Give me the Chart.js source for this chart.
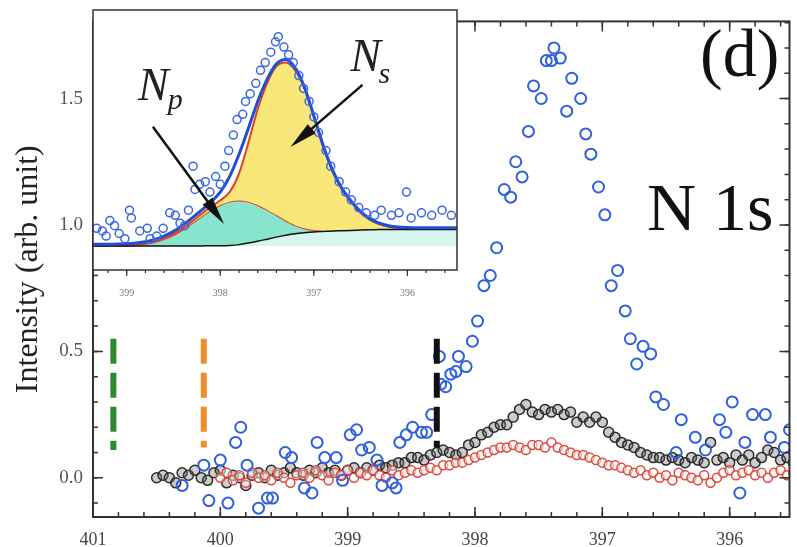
<!DOCTYPE html>
<html>
<head>
<meta charset="utf-8">
<script src="https://cdn.jsdelivr.net/npm/chart.js@4.4.1/dist/chart.umd.min.js"></script>
<style>
  body { margin: 0; background: #fff; }
  #wrap { position: relative; width: 797px; height: 547px; }
  #wrap canvas { position: absolute; left: 0; top: 0; }
</style>
</head>
<body>
<div id="wrap">
  <canvas id="mainChart" width="797" height="547"></canvas>
  <canvas id="insetChart" width="797" height="547"></canvas>
</div>
<script>
// main panel
const xTicks = [401, 400, 399, 398, 397, 396];
const yTicks = [0.0, 0.5, 1.0, 1.5];

const blueE = [400.30, 400.13, 400.09, 400.00, 399.94, 399.88, 399.84, 399.79, 399.70, 399.63,
  399.59, 399.49, 399.44, 399.34, 399.28, 399.24, 399.18, 399.09, 399.04, 398.98,
  398.93, 398.89, 398.83, 398.77, 398.73, 398.65, 398.62, 398.59, 398.54, 398.49,
  398.42, 398.38, 398.34, 398.28, 398.27, 398.23, 398.19, 398.15, 398.13, 398.07,
  398.02, 397.98, 397.93, 397.88, 397.83, 397.77, 397.72, 397.68, 397.63, 397.58,
  397.54, 397.48, 397.44, 397.40, 397.38, 397.33, 397.28, 397.24, 397.17, 397.13,
  397.09, 397.03, 396.98, 396.93, 396.88, 396.82, 396.78, 396.73, 396.68, 396.62,
  396.58, 396.52, 396.42, 396.38, 396.27, 396.19, 396.08, 396.03, 395.98, 395.92,
  395.88, 395.82, 395.72, 395.68, 395.57, 395.53];
const blueI = [-0.03, 0.05, -0.09, 0.07, -0.10, 0.14, 0.20, 0.05, -0.12, -0.08,
  -0.08, 0.10, 0.08, -0.04, -0.06, 0.14, 0.08, 0.08, -0.01, 0.17,
  0.19, 0.11, 0.12, 0.07, -0.03, -0.02, -0.04, 0.14, 0.17, 0.20,
  0.18, 0.18, 0.25, 0.48, 0.37, 0.36, 0.41, 0.42, 0.48, 0.44,
  0.54, 0.62, 0.76, 0.80, 0.91, 1.14, 1.11, 1.25, 1.19, 1.37,
  1.55, 1.50, 1.65, 1.65, 1.70, 1.66, 1.45, 1.58, 1.50, 1.36,
  1.28, 1.15, 1.04, 0.76, 0.82, 0.66, 0.55, 0.45, 0.52, 0.49,
  0.32, 0.29, 0.10, 0.23, 0.16, 0.11, 0.23, 0.18, 0.30, -0.06,
  0.14, 0.25, 0.25, 0.16, 0.12, 0.19];

// black scan covers all of scanE, red scan starts at 400.00 (index 10)
const scanE = [400.50, 400.45, 400.40, 400.35, 400.30, 400.25, 400.20, 400.15, 400.10, 400.05,
  400.00, 399.95, 399.90, 399.85, 399.80, 399.75, 399.70, 399.65, 399.60, 399.55,
  399.50, 399.45, 399.40, 399.35, 399.30, 399.25, 399.20, 399.15, 399.10, 399.05,
  399.00, 398.95, 398.90, 398.85, 398.80, 398.75, 398.70, 398.65, 398.60, 398.55,
  398.50, 398.45, 398.40, 398.35, 398.30, 398.25, 398.20, 398.15, 398.10, 398.05,
  398.00, 397.95, 397.90, 397.85, 397.80, 397.75, 397.70, 397.65, 397.60, 397.55,
  397.50, 397.45, 397.40, 397.35, 397.30, 397.25, 397.20, 397.15, 397.10, 397.05,
  397.00, 396.95, 396.90, 396.85, 396.80, 396.75, 396.70, 396.65, 396.60, 396.55,
  396.50, 396.45, 396.40, 396.35, 396.30, 396.25, 396.20, 396.15, 396.10, 396.05,
  396.00, 395.95, 395.90, 395.85, 395.80, 395.75, 395.70, 395.65, 395.60, 395.55,
  395.50];
const blackI = [0.00, 0.01, 0.00, -0.02, 0.02, 0.01, 0.03, 0.00, -0.01, 0.02,
  0.03, -0.02, 0.01, 0.00, -0.03, 0.01, 0.02, 0.00, 0.03, 0.01,
  0.02, 0.04, 0.02, 0.01, 0.03, 0.02, 0.04, 0.02, 0.03, 0.01,
  0.03, 0.04, 0.02, 0.04, 0.03, 0.05, 0.04, 0.05, 0.06, 0.06,
  0.08, 0.08, 0.07, 0.09, 0.10, 0.11, 0.10, 0.09, 0.10, 0.13,
  0.14, 0.17, 0.18, 0.20, 0.21, 0.21, 0.24, 0.27, 0.29, 0.26,
  0.25, 0.27, 0.26, 0.27, 0.25, 0.26, 0.22, 0.24, 0.22, 0.24,
  0.22, 0.18, 0.16, 0.14, 0.13, 0.12, 0.10, 0.09, 0.08, 0.08,
  0.07, 0.08, 0.07, 0.06, 0.08, 0.07, 0.06, 0.14, 0.07, 0.08,
  0.06, 0.09, 0.07, 0.09, 0.06, 0.08, 0.11, 0.10, 0.07, 0.08,
  0.06];
const redI = [0.00, 0.02, -0.01, 0.01, -0.02, 0.02, 0.00, 0.01, -0.01, 0.02,
  0.00, -0.02, 0.01, 0.02, 0.00, 0.03, 0.01, -0.01, 0.02, 0.01,
  0.03, 0.00, 0.02, 0.01, 0.03, 0.01, 0.00, 0.03, 0.01, 0.02,
  0.03, 0.02, 0.03, 0.04, 0.03, 0.05, 0.05, 0.06, 0.06, 0.07,
  0.08, 0.09, 0.10, 0.11, 0.12, 0.12, 0.13, 0.12, 0.11, 0.13,
  0.13, 0.12, 0.14, 0.12, 0.11, 0.10, 0.09, 0.09, 0.08, 0.07,
  0.06, 0.05, 0.05, 0.04, 0.03, 0.02, 0.03, 0.01, 0.02, 0.00,
  0.01, -0.01, 0.02, 0.01, 0.00, -0.01, 0.01, -0.02, 0.00, 0.02,
  0.03, 0.01, 0.02, 0.03, 0.01, 0.02, 0.00, 0.02, 0.03, 0.01,
  0.02];

// dashed guide lines (green, orange, black)
const markerE = [400.84, 400.13, 398.30];
const markerTop = [0.55, 0.55, 0.55];
const markerBottom = [0.11, 0.12, 0.12];

// inset: fit components
const insetTicks = [399, 398, 397, 396];
const insetE = [399.4, 399.3, 399.2, 399.1, 399.0, 398.9, 398.8, 398.7, 398.6, 398.5,
  398.4, 398.3, 398.2, 398.1, 398.0, 397.9, 397.8, 397.7, 397.6, 397.5,
  397.4, 397.3, 397.2, 397.1, 397.0, 396.9, 396.8, 396.7, 396.6, 396.5,
  396.4, 396.3, 396.2, 396.1, 396.0, 395.9, 395.8, 395.7, 395.6, 395.5,
  395.4];
const bgCurve = [0.892, 0.892, 0.892, 0.892, 0.892, 0.892, 0.892, 0.892, 0.892, 0.892,
  0.892, 0.892, 0.892, 0.893, 0.893, 0.894, 0.897, 0.903, 0.910, 0.918,
  0.926, 0.933, 0.939, 0.943, 0.946, 0.948, 0.950, 0.951, 0.952, 0.953,
  0.954, 0.955, 0.955, 0.955, 0.955, 0.955, 0.955, 0.955, 0.955, 0.955,
  0.955];
const npCurve = [0.892, 0.892, 0.892, 0.893, 0.894, 0.896, 0.900, 0.907, 0.918, 0.934,
  0.955, 0.980, 1.006, 1.030, 1.050, 1.063, 1.067, 1.063, 1.050, 1.032,
  1.011, 0.990, 0.972, 0.960, 0.953, 0.950, 0.951, 0.951, 0.952, 0.953,
  0.954, 0.955, 0.955, 0.955, 0.955, 0.955, 0.955, 0.955, 0.955, 0.955,
  0.955];
const totalCurve = [0.892, 0.892, 0.892, 0.893, 0.894, 0.896, 0.901, 0.909, 0.921, 0.938,
  0.960, 0.987, 1.016, 1.043, 1.068, 1.100, 1.170, 1.290, 1.420, 1.520,
  1.585, 1.600, 1.570, 1.500, 1.390, 1.275, 1.180, 1.110, 1.060, 1.020,
  0.992, 0.975, 0.966, 0.961, 0.958, 0.957, 0.956, 0.956, 0.956, 0.956,
  0.956];
const envCurve = [0.898, 0.898, 0.898, 0.899, 0.900, 0.903, 0.908, 0.917, 0.930, 0.948,
  0.972, 1.000, 1.030, 1.062, 1.100, 1.160, 1.245, 1.345, 1.450, 1.535,
  1.595, 1.612, 1.580, 1.505, 1.395, 1.280, 1.185, 1.115, 1.065, 1.025,
  0.997, 0.980, 0.970, 0.965, 0.963, 0.962, 0.962, 0.962, 0.962, 0.962,
  0.962];
const insetPtE = [399.32, 399.26, 399.22, 399.18, 399.13, 399.08, 399.02, 398.97, 398.95, 398.86,
  398.78, 398.75, 398.68, 398.61, 398.54, 398.48, 398.43, 398.38, 398.34, 398.29,
  398.27, 398.22, 398.16, 398.11, 398.05, 398.00, 397.95, 397.91, 397.86, 397.82,
  397.76, 397.73, 397.68, 397.62, 397.57, 397.52, 397.46, 397.41, 397.38, 397.32,
  397.27, 397.22, 397.16, 397.11, 397.05, 397.00, 396.95, 396.87, 396.82, 396.73,
  396.66, 396.60, 396.52, 396.44, 396.35, 396.28, 396.17, 396.09, 396.01, 395.96,
  395.85, 395.74, 395.63, 395.53];
const insetPtI = [0.96, 0.95, 0.93, 0.99, 0.97, 0.94, 0.92, 1.03, 1.00, 0.95,
  0.96, 0.92, 0.93, 0.96, 1.02, 1.01, 0.98, 0.97, 1.03, 1.20,
  1.11, 1.13, 1.14, 1.10, 1.16, 1.13, 1.20, 1.26, 1.32, 1.38,
  1.40, 1.45, 1.48, 1.52, 1.57, 1.60, 1.64, 1.68, 1.70, 1.66,
  1.63, 1.60, 1.55, 1.50, 1.45, 1.39, 1.33, 1.26, 1.20, 1.14,
  1.10, 1.07, 1.04, 1.02, 1.01, 1.03, 1.01, 1.02, 1.10, 1.00,
  1.02, 1.01, 1.03, 1.01];

// arrows and labels of the inset, in data units
const arrows = [
  { from: [398.72, 1.352], to: [397.96, 0.977] },
  { from: [396.48, 1.514], to: [397.25, 1.274] }
];
const compLabels = [
  { main: 'N', sub: 'p', at: [398.88, 1.457], subAt: [398.56, 1.419] },
  { main: 'N', sub: 's', at: [396.61, 1.566], subAt: [396.31, 1.523] }
];

Chart.defaults.font.family = "'Liberation Serif', 'Times New Roman', serif";

const pts = (xs, ys) => ys.map((y, i) => ({ x: xs[i], y: y }));

function tickMarks(ctx, scale, step, len, side, a) {
  const lo = Math.min(scale.min, scale.max), hi = Math.max(scale.min, scale.max);
  const n0 = Math.ceil(lo / step - 1e-6), n1 = Math.floor(hi / step + 1e-6);
  ctx.beginPath();
  for (let n = n0; n <= n1; n++) {
    const p = scale.getPixelForValue(n * step);
    if (side === 'bottom') { ctx.moveTo(p, a.bottom); ctx.lineTo(p, a.bottom - len); }
    if (side === 'top') { ctx.moveTo(p, a.top); ctx.lineTo(p, a.top + len); }
    if (side === 'left') { ctx.moveTo(a.left, p); ctx.lineTo(a.left + len, p); }
    if (side === 'right') { ctx.moveTo(a.right, p); ctx.lineTo(a.right - len, p); }
  }
  ctx.stroke();
}

const mainFrame = {
  id: 'mainFrame',
  afterDatasetsDraw(chart) {
    const { ctx, chartArea: a, scales: { x, y } } = chart;
    ctx.save();
    ctx.strokeStyle = '#333';
    ctx.lineWidth = 2;
    ctx.strokeRect(a.left, a.top, a.right - a.left, a.bottom - a.top);
    ctx.lineWidth = 1.5;
    tickMarks(ctx, x, 1, 10, 'bottom', a);
    tickMarks(ctx, x, 0.2, 5, 'bottom', a);
    tickMarks(ctx, x, 1, 10, 'top', a);
    tickMarks(ctx, x, 0.2, 5, 'top', a);
    tickMarks(ctx, y, 0.5, 10, 'left', a);
    tickMarks(ctx, y, 0.1, 5, 'left', a);
    tickMarks(ctx, y, 0.5, 10, 'right', a);
    tickMarks(ctx, y, 0.1, 5, 'right', a);
    ctx.fillStyle = '#111';
    ctx.font = "68px 'Liberation Serif'";
    ctx.textBaseline = 'alphabetic';
    ctx.fillText('(d)', 700, 76);
    ctx.fillText('N 1s', 647, 230);
    ctx.restore();
  }
};

const markerColors = ['#2f8a2f', '#f28c28', '#111111'];
const mainDatasets = [
  { data: pts(scanE, blackI), showLine: false, pointRadius: 5, pointBorderWidth: 1.5,
    pointBorderColor: '#2b2b2b', pointBackgroundColor: 'rgba(110,110,110,0.35)', order: 4 },
  { data: pts(scanE.slice(10), redI), showLine: false, pointRadius: 4.5, pointBorderWidth: 1.5,
    pointBorderColor: '#e2473c', pointBackgroundColor: 'rgba(255,255,255,0.5)', order: 3 },
  { data: pts(blueE, blueI), showLine: false, pointRadius: 5.5, pointBorderWidth: 2,
    pointBorderColor: '#3060e0', pointBackgroundColor: 'rgba(255,255,255,0)', order: 2 }
];
markerE.forEach((e, i) => {
  mainDatasets.push({
    data: [{ x: e, y: markerTop[i] }, { x: e, y: markerBottom[i] }],
    showLine: true, borderColor: markerColors[i], borderWidth: 6, borderDash: [25, 9],
    borderCapStyle: 'butt', pointRadius: 0, fill: false, order: 1
  });
});

new Chart(document.getElementById('mainChart'), {
  type: 'line',
  data: { datasets: mainDatasets },
  options: {
    responsive: false,
    animation: false,
    events: [],
    layout: { padding: { left: 0, top: 10, right: 4, bottom: 0 } },
    plugins: { legend: { display: false }, tooltip: { enabled: false } },
    scales: {
      x: {
        type: 'linear', reverse: true, min: 395.53, max: 401.0,
        grid: { display: false, drawTicks: false }, border: { display: false },
        afterBuildTicks: s => { s.ticks = xTicks.map(v => ({ value: v })); },
        afterFit: s => { s.height = 30; },
        ticks: { color: '#444', font: { size: 18 }, padding: 12, maxRotation: 0, autoSkip: false }
      },
      y: {
        type: 'linear', min: -0.155, max: 1.805,
        grid: { display: false, drawTicks: false }, border: { display: false },
        afterBuildTicks: s => { s.ticks = yTicks.map(v => ({ value: v })); },
        afterFit: s => { s.width = 93; },
        ticks: { color: '#555', font: { size: 19 }, padding: 10, callback: v => v.toFixed(1) },
        title: { display: true, text: 'Intensity (arb. unit)', color: '#222',
          font: { size: 32 }, padding: { top: 9, bottom: 0 } }
      }
    }
  },
  plugins: [mainFrame]
});

const insetFrame = {
  id: 'insetFrame',
  beforeDraw(chart) {
    const { ctx, chartArea: a } = chart;
    ctx.save();
    ctx.fillStyle = '#fff';
    ctx.fillRect(a.left, a.top, a.right - a.left, a.bottom - a.top);
    ctx.restore();
  },
  afterDraw(chart) {
    const { ctx, chartArea: a, scales: { x, y } } = chart;
    ctx.save();
    ctx.strokeStyle = '#333';
    ctx.lineWidth = 1.5;
    ctx.strokeRect(a.left, a.top, a.right - a.left, a.bottom - a.top);
    ctx.lineWidth = 1.2;
    tickMarks(ctx, x, 1, -6, 'bottom', a);
    tickMarks(ctx, x, 0.2, -3, 'bottom', a);

    ctx.strokeStyle = '#111';
    ctx.fillStyle = '#111';
    ctx.lineWidth = 2.5;
    arrows.forEach(ar => {
      const x0 = x.getPixelForValue(ar.from[0]), y0 = y.getPixelForValue(ar.from[1]);
      const x1 = x.getPixelForValue(ar.to[0]), y1 = y.getPixelForValue(ar.to[1]);
      const ang = Math.atan2(y1 - y0, x1 - x0);
      const hl = 28, hw = 6;
      ctx.beginPath();
      ctx.moveTo(x0, y0);
      ctx.lineTo(x1 - Math.cos(ang) * hl * 0.5, y1 - Math.sin(ang) * hl * 0.5);
      ctx.stroke();
      ctx.beginPath();
      ctx.moveTo(x1, y1);
      ctx.lineTo(x1 - Math.cos(ang) * hl - Math.sin(ang) * hw, y1 - Math.sin(ang) * hl + Math.cos(ang) * hw);
      ctx.lineTo(x1 - Math.cos(ang) * hl + Math.sin(ang) * hw, y1 - Math.sin(ang) * hl - Math.cos(ang) * hw);
      ctx.closePath();
      ctx.fill();
    });

    ctx.fillStyle = '#222';
    ctx.textBaseline = 'alphabetic';
    compLabels.forEach(lb => {
      ctx.font = "italic 46px 'Liberation Serif'";
      ctx.fillText(lb.main, x.getPixelForValue(lb.at[0]), y.getPixelForValue(lb.at[1]));
      ctx.font = "italic 30px 'Liberation Serif'";
      ctx.fillText(lb.sub, x.getPixelForValue(lb.subAt[0]), y.getPixelForValue(lb.subAt[1]));
    });
    ctx.restore();
  }
};

const curve = { showLine: true, pointRadius: 0, cubicInterpolationMode: 'monotone' };
new Chart(document.getElementById('insetChart'), {
  type: 'line',
  data: {
    datasets: [
      Object.assign({ data: pts(insetE, bgCurve), borderColor: '#111', borderWidth: 1.5,
        fill: { value: 0.892 }, backgroundColor: '#d6f5ee', order: 3 }, curve),
      Object.assign({ data: pts(insetE, npCurve), borderColor: '#e0402a', borderWidth: 2,
        fill: 0, backgroundColor: '#88e4cc', order: 5 }, curve),
      Object.assign({ data: pts(insetE, totalCurve), borderColor: '#e0402a', borderWidth: 2,
        fill: 1, backgroundColor: '#f9e77a', order: 4 }, curve),
      Object.assign({ data: pts(insetE, envCurve), borderColor: '#1e4fd6', borderWidth: 3,
        fill: false, order: 2 }, curve),
      { data: pts(insetPtE, insetPtI), showLine: false, pointRadius: 4, pointBorderWidth: 1.5,
        pointBorderColor: '#3a67e8', pointBackgroundColor: 'rgba(255,255,255,0)', order: 1 }
    ]
  },
  options: {
    responsive: false,
    animation: false,
    events: [],
    layout: { padding: { left: 93, top: 10, right: 340, bottom: 0 } },
    plugins: { legend: { display: false }, tooltip: { enabled: false } },
    scales: {
      x: {
        type: 'linear', reverse: true, min: 395.47, max: 399.36,
        grid: { display: false, drawTicks: false }, border: { display: false },
        afterBuildTicks: s => { s.ticks = insetTicks.map(v => ({ value: v })); },
        afterFit: s => { s.height = 277; },
        ticks: { color: '#777', font: { size: 10 }, padding: 17, maxRotation: 0, autoSkip: false }
      },
      y: { type: 'linear', display: false, min: 0.799, max: 1.803 }
    }
  },
  plugins: [insetFrame]
});
</script>
</body>
</html>
